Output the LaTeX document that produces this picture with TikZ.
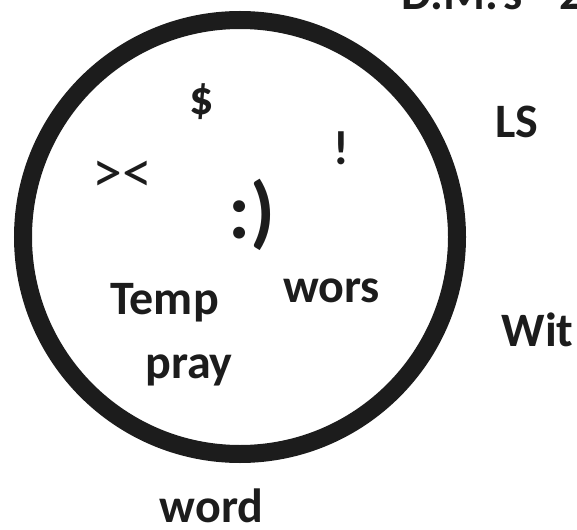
\documentclass[tikz,border=0pt]{standalone}
\usepackage{fontspec}
\setmainfont{Carlito}
\definecolor{ink}{HTML}{1C1C1C}
\tikzset{
  lbl/.style={inner sep=0pt, outer sep=0pt, text=ink, font=\fontsize{48}{50}\selectfont\bfseries},
  big/.style={lbl, font=\fontsize{80}{84}\selectfont\bfseries},
  mid/.style={lbl, font=\fontsize{60}{62}\selectfont},
  ring/.style={draw=ink, line width=18pt}
}
\begin{document}
\begin{tikzpicture}[x=1pt,y=1pt]
\useasboundingbox (0,0) rectangle (577,-529);
\path[clip] (0,0) rectangle (577,-529);
\node[ring, circle, minimum size=434pt, inner sep=0pt] (c) at (240,-237) {};
\node[lbl] (dollar) at (202,-101.5) {\$};
\node[lbl] (bang) at (341,-148.5) {!};
\node[mid] (gtlt) at (122.5,-176.5) {><};
\node[big] (smile) at (252,-215) {:)};
\node[lbl] (temp) at (164.5,-302.5) {Temp};
\node[lbl] (wors) at (331.5,-290.5) {wors};
\node[lbl] (pray) at (189,-370) {pray};
\node[lbl] (word) at (211.5,-506) {word};
\node[lbl] (ls) at (516.5,-122) {LS};
\node[lbl] (wit) at (537.5,-329.5) {Wit};
\node[lbl, anchor=base west] (dm) at (401,-10) {D.M.'s - 2};
\end{tikzpicture}
\end{document}
